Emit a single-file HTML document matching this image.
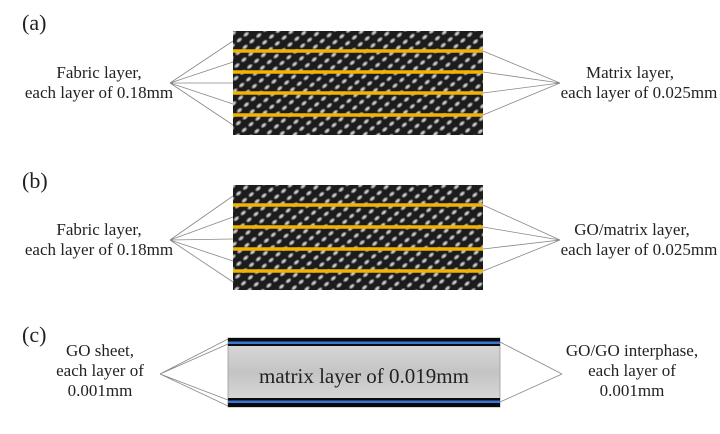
<!DOCTYPE html>
<html><head><style>
body{margin:0;background:#fff;}
svg text{font-family:"Liberation Serif",serif;fill:#222;}
</style></head><body>
<svg width="720" height="429" xmlns="http://www.w3.org/2000/svg">
<defs>
<pattern id="wv" width="9" height="9" patternUnits="userSpaceOnUse" patternTransform="rotate(-40)">
<rect width="9" height="9" fill="#1c1c1c"/>
<ellipse cx="4.5" cy="4.5" rx="3.4" ry="2" fill="#777"/>
<ellipse cx="4.5" cy="4.5" rx="2" ry="1.1" fill="#c8c8c8"/>
</pattern>
<linearGradient id="gm" x1="0" y1="0" x2="0" y2="1"><stop offset="0" stop-color="#dcdcdc"/><stop offset="0.5" stop-color="#c4c4c4"/><stop offset="1" stop-color="#dcdcdc"/></linearGradient>
</defs>
<g font-size="22"><text x="22" y="30">(a)</text><text x="22" y="188">(b)</text><text x="22" y="342">(c)</text></g>
<!-- a -->
<rect x="233" y="31" width="250" height="104" fill="url(#wv)"/>
<g stroke="#f2b400" stroke-width="3.5"><line x1="233" y1="51" x2="483" y2="51"/><line x1="233" y1="72" x2="483" y2="72"/><line x1="233" y1="93" x2="483" y2="93"/><line x1="233" y1="115" x2="483" y2="115"/></g>
<g stroke="#888" stroke-width="0.8" fill="none">
<path d="M170 83L233 41M170 83L233 62M170 83L233 83M170 83L233 104M170 83L233 125"/>
<path d="M560 83L483 51M560 83L483 72M560 83L483 93M560 83L483 115"/>
</g>
<g font-size="17" text-anchor="middle"><text x="99" y="78">Fabric layer,</text><text x="99" y="98">each layer of 0.18mm</text>
<text x="630" y="78">Matrix layer,</text><text x="639" y="98">each layer of 0.025mm</text></g>
<!-- b -->
<rect x="233" y="185" width="250" height="105" fill="url(#wv)"/>
<g stroke="#f2b400" stroke-width="3.5"><line x1="233" y1="205" x2="483" y2="205"/><line x1="233" y1="227" x2="483" y2="227"/><line x1="233" y1="249" x2="483" y2="249"/><line x1="233" y1="271" x2="483" y2="271"/></g>
<g stroke="#888" stroke-width="0.8" fill="none">
<path d="M170 240L233 196M170 240L233 217M170 240L233 239M170 240L233 261M170 240L233 282"/>
<path d="M560 240L483 205M560 240L483 227M560 240L483 249M560 240L483 271"/>
</g>
<g font-size="17" text-anchor="middle"><text x="99" y="235">Fabric layer,</text><text x="99" y="255">each layer of 0.18mm</text>
<text x="632" y="235">GO/matrix layer,</text><text x="639" y="255">each layer of 0.025mm</text></g>
<!-- c -->
<rect x="228" y="338" width="272" height="69" fill="url(#gm)" stroke="#999" stroke-width="0.8"/>
<rect x="228" y="338" width="272" height="8" fill="#0a0a0a"/>
<rect x="228" y="341.5" width="272" height="2.5" fill="#3a78d8"/>
<rect x="228" y="398" width="272" height="9" fill="#0a0a0a"/>
<rect x="228" y="400.5" width="272" height="2.5" fill="#3a78d8"/>
<g stroke="#888" stroke-width="0.8" fill="none">
<path d="M160 374L228 339M160 374L228 344M160 374L228 400M160 374L228 406"/>
<path d="M562 374L500 342M562 374L500 402"/>
</g>
<text x="364" y="383" font-size="21" text-anchor="middle">matrix layer of 0.019mm</text>
<g font-size="17" text-anchor="middle"><text x="100" y="356">GO sheet,</text><text x="100" y="376">each layer of</text><text x="100" y="396">0.001mm</text>
<text x="632" y="356">GO/GO interphase,</text><text x="632" y="376">each layer of</text><text x="632" y="396">0.001mm</text></g>
</svg>
</body></html>
